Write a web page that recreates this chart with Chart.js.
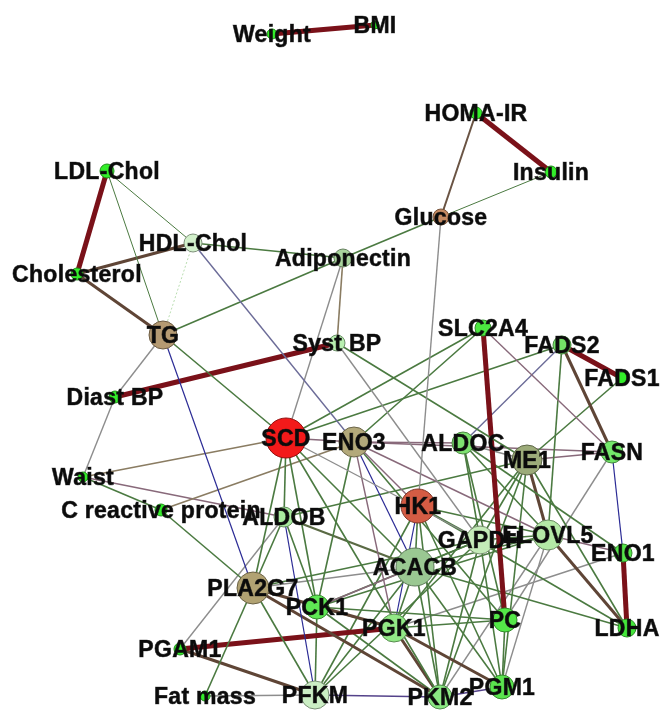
<!DOCTYPE html>
<html>
<head>
<meta charset="utf-8">
<script src="https://cdn.jsdelivr.net/npm/chart.js@4.4.1/dist/chart.umd.min.js"></script>
<style>
  html, body { margin: 0; padding: 0; background: #fff; }
  #wrap { width: 661px; height: 711px; }
</style>
</head>
<body>
<div id="wrap"><canvas id="net" width="661" height="711"></canvas></div>
<script>
// nodes of the network and their layout position (x right, y down)
const nodeNames = ['Weight', 'BMI', 'HOMA-IR', 'Insulin', 'Glucose', 'LDL-Chol', 'HDL-Chol', 'Cholesterol',
  'Adiponectin', 'TG', 'Syst BP', 'Diast BP', 'SCD', 'ENO3', 'SLC2A4', 'FADS2', 'FADS1', 'ALDOC', 'ME1', 'FASN',
  'Waist', 'C reactive protein', 'ALDOB', 'HK1', 'GAPDH', 'ELOVL5', 'ENO1', 'ACACB', 'PLA2G7', 'PCK1', 'PGK1',
  'PC', 'LDHA', 'PGAM1', 'Fat mass', 'PFKM', 'PKM2', 'PGM1'];
const nodeX = [272, 375, 476, 551, 441, 107, 193, 77, 343, 163, 337, 115, 286, 354, 483, 562, 622, 463, 527, 612,
  83, 161, 284, 418, 480, 548, 623, 415, 253, 317, 394, 505, 627, 180, 205, 315, 440, 502];
const nodeY = [34, 25, 113, 172, 217, 171, 243, 274, 258, 335, 343, 397, 438, 442, 328, 345, 378, 443, 460, 452,
  477, 510, 517, 506, 540, 535, 553, 567, 588, 607, 628, 620, 628, 649, 696, 695, 697, 687];

// marker radius and fill tone per node (style, not data)
const nodeRadius = [5, 4, 6, 6, 8, 7, 9, 6, 9, 14, 8, 6, 20, 15, 8, 9, 6, 11, 15, 11,
  5, 6, 10, 17, 14, 15, 9, 19, 16, 12, 14, 12, 9, 6, 5, 14, 12, 12];
const nodeTone = ['#33ee2a', '#33ee2a', '#33ee2a', '#33ee2a', '#c48a62', '#33ee2a', '#d2f0cb', '#33ee2a',
  '#a9d49c', '#b59a72', '#b8f0b0', '#33ee2a', '#f31a1a', '#b3a97a', '#4ce840', '#74e266', '#33ee2a', '#7ee270',
  '#9cab79', '#74e86a', '#33ee2a', '#33ee2a', '#a8ea9e', '#d45c44', '#c4ebb8', '#b4e9a6', '#55e44a', '#9ac892',
  '#b1a272', '#5fe854', '#92e886', '#54e848', '#44e63a', '#33ee2a', '#33ee2a', '#cbeec4', '#8ae882', '#5ae44e'];

// edges: [from, to, kind]
const edgePairs = [
  ['Weight', 'BMI', 'R'], ['HOMA-IR', 'Insulin', 'R'], ['HOMA-IR', 'Glucose', 'b'], ['Insulin', 'Glucose', 'g'],
  ['Glucose', 'Adiponectin', 'G'], ['Glucose', 'HK1', 'Y'],
  ['LDL-Chol', 'Cholesterol', 'R'], ['LDL-Chol', 'HDL-Chol', 'g'], ['LDL-Chol', 'TG', 'g'],
  ['Cholesterol', 'HDL-Chol', 'B'], ['Cholesterol', 'TG', 'B'], ['HDL-Chol', 'TG', 'P'],
  ['HDL-Chol', 'Adiponectin', 'G'], ['HDL-Chol', 'ENO3', 'S'],
  ['Adiponectin', 'TG', 'G'], ['Adiponectin', 'Syst BP', 'T'], ['Adiponectin', 'SCD', 'Y'],
  ['TG', 'Diast BP', 'Y'], ['TG', 'SCD', 'G'], ['TG', 'PLA2G7', 'U'],
  ['Diast BP', 'Syst BP', 'R'], ['Diast BP', 'Waist', 'Y'], ['Syst BP', 'GAPDH', 'Y'], ['Syst BP', 'ME1', 'G'],
  ['SLC2A4', 'SCD', 'G'], ['SLC2A4', 'ENO3', 'G'], ['SLC2A4', 'PC', 'R'], ['SLC2A4', 'FASN', 'M'],
  ['FADS2', 'FADS1', 'R'], ['FADS2', 'SCD', 'G'], ['FADS2', 'ALDOC', 'S'], ['FADS2', 'FASN', 'B'],
  ['FADS2', 'ELOVL5', 'G'], ['FADS1', 'ME1', 'G'],
  ['SCD', 'ENO3', 'M'], ['SCD', 'Waist', 'T'], ['SCD', 'ALDOB', 'G'], ['SCD', 'PLA2G7', 'G'], ['SCD', 'PCK1', 'G'],
  ['SCD', 'ACACB', 'G'], ['SCD', 'PKM2', 'G'], ['SCD', 'GAPDH', 'Y'],
  ['ENO3', 'ALDOC', 'M'], ['ENO3', 'FASN', 'M'], ['ENO3', 'ACACB', 'U'], ['ENO3', 'PGK1', 'M'], ['ENO3', 'HK1', 'M'],
  ['ENO3', 'ELOVL5', 'M'], ['ENO3', 'PCK1', 'G'], ['ENO3', 'PC', 'G'], ['ENO3', 'C reactive protein', 'T'],
  ['Waist', 'C reactive protein', 'G'], ['Waist', 'ALDOB', 'M'], ['C reactive protein', 'PLA2G7', 'G'],
  ['ALDOB', 'PLA2G7', 'G'], ['ALDOB', 'PGAM1', 'Y'], ['ALDOB', 'PFKM', 'U'], ['ALDOB', 'PCK1', 'G'],
  ['ALDOB', 'ACACB', 'D'], ['ALDOB', 'ME1', 'G'],
  ['PLA2G7', 'ACACB', 'Y'], ['PLA2G7', 'GAPDH', 'G'], ['PLA2G7', 'PFKM', 'G'], ['PLA2G7', 'Fat mass', 'G'],
  ['PLA2G7', 'PGK1', 'B'], ['PLA2G7', 'PKM2', 'B'],
  ['PGAM1', 'PGK1', 'R'], ['PGAM1', 'PFKM', 'B'], ['Fat mass', 'PFKM', 'Y'], ['PFKM', 'PKM2', 'V'], ['PKM2', 'PGM1', 'V'],
  ['PGK1', 'PKM2', 'B'], ['PGK1', 'PGM1', 'B'],
  ['PCK1', 'PGK1', 'G'], ['PCK1', 'PC', 'G'], ['PCK1', 'ACACB', 'M'], ['PCK1', 'PFKM', 'G'], ['PCK1', 'PKM2', 'G'],
  ['PCK1', 'GAPDH', 'G'], ['PCK1', 'ELOVL5', 'G'],
  ['PFKM', 'HK1', 'G'], ['PFKM', 'ACACB', 'G'], ['PFKM', 'GAPDH', 'G'],
  ['HK1', 'ACACB', 'G'], ['HK1', 'PGK1', 'U'], ['HK1', 'PKM2', 'G'], ['HK1', 'PGM1', 'G'], ['HK1', 'GAPDH', 'G'],
  ['HK1', 'ELOVL5', 'G'], ['HK1', 'LDHA', 'G'],
  ['ACACB', 'GAPDH', 'G'], ['ACACB', 'ELOVL5', 'G'], ['ACACB', 'PGK1', 'G'], ['ACACB', 'PKM2', 'G'],
  ['ACACB', 'PGM1', 'G'], ['ACACB', 'LDHA', 'G'],
  ['GAPDH', 'ME1', 'G'], ['GAPDH', 'ALDOC', 'G'], ['GAPDH', 'PKM2', 'G'], ['GAPDH', 'PGM1', 'G'],
  ['ALDOC', 'ME1', 'Y'], ['ALDOC', 'ELOVL5', 'G'], ['ALDOC', 'PC', 'G'], ['ALDOC', 'ENO1', 'G'],
  ['ME1', 'FASN', 'M'], ['ME1', 'ELOVL5', 'B'], ['ME1', 'LDHA', 'G'], ['ME1', 'PGK1', 'G'], ['ME1', 'PKM2', 'G'],
  ['ME1', 'PGM1', 'G'],
  ['ELOVL5', 'ENO1', 'M'], ['ELOVL5', 'LDHA', 'B'], ['ELOVL5', 'PGM1', 'Y'], ['ELOVL5', 'PKM2', 'Y'],
  ['ELOVL5', 'GAPDH', 'G'],
  ['FASN', 'ENO1', 'U'], ['FASN', 'PC', 'Y'], ['ENO1', 'PGK1', 'Y'], ['ENO1', 'LDHA', 'R'],
  ['PC', 'PGM1', 'G'], ['PC', 'PGK1', 'G']
];

// line look for every edge kind
const kindStyle = {
  R: { color: '#7a1119', width: 5 },
  B: { color: '#5f4536', width: 3 },
  b: { color: '#6a5444', width: 2 },
  G: { color: '#4b7a41', width: 1.6 },
  g: { color: '#4b7a41', width: 1 },
  D: { color: '#5a6a44', width: 2.2 },
  Y: { color: '#8d8d8d', width: 1.4 },
  M: { color: '#88697a', width: 1.4 },
  S: { color: '#6c6c98', width: 1.4 },
  U: { color: '#2b2b95', width: 1.2 },
  V: { color: '#54428a', width: 1.4 },
  T: { color: '#8a7c62', width: 1.6 },
  P: { color: '#b9ddb0', width: 1, dash: [2, 2] }
};

function darker(hex) {
  const n = parseInt(hex.slice(1), 16);
  const f = c => Math.round(c * 0.6);
  return `rgb(${f(n >> 16)}, ${f((n >> 8) & 255)}, ${f(n & 255)})`;
}

const idx = name => nodeNames.indexOf(name);

const nodeSet = {
  label: 'nodes',
  data: nodeNames.map((n, i) => ({ x: nodeX[i], y: nodeY[i] })),
  pointRadius: nodeRadius,
  pointBackgroundColor: nodeTone,
  pointBorderColor: nodeTone.map(darker),
  pointBorderWidth: 1,
  showLine: false,
  order: 0
};

const edgeSets = edgePairs.map(([a, b, k]) => {
  const st = kindStyle[k];
  return {
    label: a + ' - ' + b,
    data: [{ x: nodeX[idx(a)], y: nodeY[idx(a)] }, { x: nodeX[idx(b)], y: nodeY[idx(b)] }],
    showLine: true,
    borderColor: st.color,
    borderWidth: st.width,
    borderDash: st.dash || [],
    pointRadius: 0,
    order: 1
  };
});

// names written over the nodes
const nodeLabels = {
  id: 'nodeLabels',
  afterDatasetsDraw(chart) {
    const ctx = chart.ctx;
    const meta = chart.getDatasetMeta(0);
    ctx.save();
    ctx.font = 'bold 23px "Liberation Sans", Arial, sans-serif';
    ctx.letterSpacing = '0.3px';
    ctx.textAlign = 'center';
    ctx.textBaseline = 'alphabetic';
    ctx.fillStyle = '#0c0c0c';
    ctx.strokeStyle = 'rgba(12,12,12,0.7)';
    ctx.lineWidth = 0.7;
    meta.data.forEach((pt, i) => {
      ctx.fillText(nodeNames[i], pt.x, pt.y + 8);
      ctx.strokeText(nodeNames[i], pt.x, pt.y + 8);
    });
    ctx.restore();
  }
};

new Chart(document.getElementById('net'), {
  type: 'scatter',
  data: { datasets: [nodeSet, ...edgeSets] },
  options: {
    responsive: false,
    animation: false,
    events: [],
    layout: { padding: 0, autoPadding: false },
    clip: false,
    plugins: { legend: { display: false }, tooltip: { enabled: false } },
    scales: {
      x: { type: 'linear', min: 0, max: 661, display: false },
      y: { type: 'linear', min: 0, max: 711, reverse: true, display: false }
    }
  },
  plugins: [nodeLabels]
});
</script>
</body>
</html>
